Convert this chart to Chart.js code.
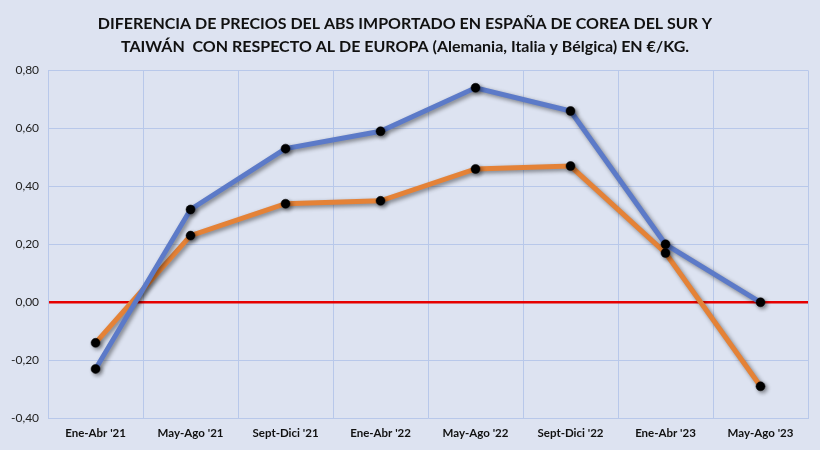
<!DOCTYPE html>
<html>
<head>
<meta charset="utf-8">
<script src="https://cdn.jsdelivr.net/npm/chart.js@4"></script>
<style>
  body { margin: 0; background: #dde3f1; }
</style>
</head>
<body>
<canvas id="myChart" width="820" height="450"></canvas>
<script>
// categories and series
var periodos = ["Ene-Abr '21", "May-Ago '21", "Sept-Dici '21", "Ene-Abr '22", "May-Ago '22", "Sept-Dici '22", "Ene-Abr '23", "May-Ago '23"];
var coreaSur = [-0.23, 0.32, 0.53, 0.59, 0.74, 0.66, 0.20, 0.00];
var taiwan = [-0.14, 0.23, 0.34, 0.35, 0.46, 0.47, 0.17, -0.29];
var tituloLineas = [
    "DIFERENCIA DE PRECIOS DEL ABS IMPORTADO EN ESPAÑA DE COREA DEL SUR Y",
    "TAIWÁN  CON RESPECTO AL DE EUROPA (Alemania, Italia y Bélgica) EN €/KG."
];

// soft shadow under lines and points
var sombra = {
    id: 'sombra',
    beforeDatasetsDraw: function(chart) {
        var c = chart.ctx;
        c.save();
        c.shadowColor = 'rgba(0,0,0,0.45)';
        c.shadowBlur = 4;
        c.shadowOffsetX = 2;
        c.shadowOffsetY = 2;
    },
    afterDatasetsDraw: function(chart) {
        chart.ctx.restore();
    }
};

function esCero(c) {
    return c.tick && Math.abs(c.tick.value) < 1e-9;
}

var ctx = document.getElementById('myChart').getContext('2d');
var chart = new Chart(ctx, {
    type: 'line',
    data: {
        labels: periodos,
        datasets: [{
            label: 'Corea del Sur',
            data: coreaSur,
            borderColor: 'rgb(92,122,200)',
            borderWidth: 5,
            pointBackgroundColor: '#000',
            pointBorderColor: '#000',
            pointRadius: 4.5,
            pointBorderWidth: 0.5,
            tension: 0
        }, {
            label: 'Taiwán',
            data: taiwan,
            borderColor: 'rgb(228,130,55)',
            borderWidth: 5,
            pointBackgroundColor: '#000',
            pointBorderColor: '#000',
            pointRadius: 4.5,
            pointBorderWidth: 0.5,
            tension: 0
        }]
    },
    options: {
        responsive: false,
        animation: false,
        devicePixelRatio: 1,
        layout: { padding: { left: 2, right: 12, top: 6, bottom: 2 } },
        plugins: {
            legend: { display: false },
            tooltip: { enabled: false },
            title: {
                display: true,
                text: tituloLineas,
                color: '#111',
                font: { family: 'Lato', size: 16, weight: 'bold', lineHeight: 1.45 },
                padding: { top: 6, bottom: 12 }
            }
        },
        scales: {
            x: {
                offset: true,
                grid: { color: 'rgb(184,200,234)', lineWidth: 1, offset: true, drawTicks: false },
                border: { color: 'rgb(184,200,234)' },
                ticks: {
                    color: '#111',
                    font: { family: 'Lato', size: 11.5, weight: 'bold' },
                    padding: 8,
                    maxRotation: 0
                }
            },
            y: {
                min: -0.4,
                max: 0.8,
                grid: {
                    drawTicks: false,
                    color: function(c) { return esCero(c) ? 'rgb(230,0,0)' : 'rgb(184,200,234)'; },
                    lineWidth: function(c) { return esCero(c) ? 2.5 : 1; }
                },
                border: { color: 'rgb(184,200,234)' },
                ticks: {
                    stepSize: 0.2,
                    color: '#222',
                    padding: 9,
                    font: { family: 'Lato', size: 12 },
                    callback: function(v) { return v.toFixed(2).replace('.', ','); }
                }
            }
        }
    },
    plugins: [sombra]
});
</script>
</body>
</html>
